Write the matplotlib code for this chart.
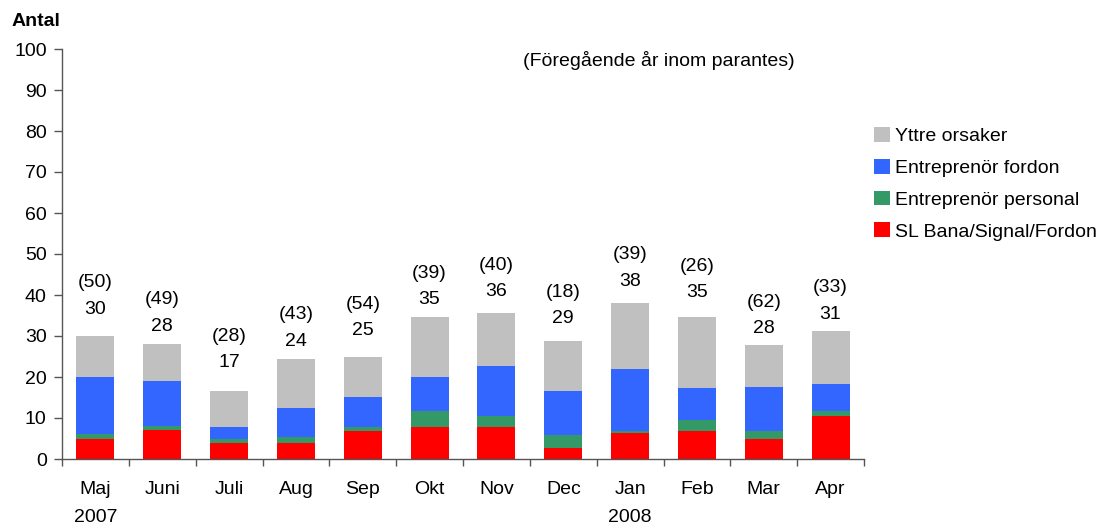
import numpy as np
import matplotlib
matplotlib.use("Agg")
import matplotlib.pyplot as plt

# data
months = ["Maj\n2007", "Juni", "Juli", "Aug", "Sep", "Okt", "Nov", "Dec",
          "Jan\n2008", "Feb", "Mar", "Apr"]
sl_bana = [5, 7, 3.8, 4, 6.9, 7.7, 7.8, 2.8, 6.4, 6.85, 4.9, 10.6]
entr_personal = [1, 1, 1.1, 1.4, 0.9, 3.9, 2.8, 3.1, 0.45, 2.75, 1.95, 1.0]
entr_fordon = [14, 11, 2.8, 7.1, 7.4, 8.3, 12.2, 10.7, 15.15, 7.8, 10.75, 6.8]
yttre = [10, 9, 8.9, 11.8, 9.7, 14.8, 12.9, 12.3, 16.0, 17.3, 10.3, 12.7]
totals = [30, 28, 17, 24, 25, 35, 36, 29, 38, 35, 28, 31]
prev_year = [50, 49, 28, 43, 54, 39, 40, 18, 39, 26, 62, 33]

# manual label placement above the bars (pixels)
label_offset = [27, 18, 28, 18, 26, 17, 21, 22, 22, 24, 16, 17]

plt.rcParams['font.family'] = ['Liberation Sans', 'DejaVu Sans']
FS = 14

fig = plt.figure(figsize=(11.18, 5.26), dpi=100)
ax = fig.add_axes([62 / 1118, 1 - 459 / 526, (864 - 62) / 1118, (459 - 49) / 526])

x = np.arange(len(months))
w = 0.57
series = [
    (sl_bana, "#FF0000", "SL Bana/Signal/Fordon"),
    (entr_personal, "#339966", "Entreprenör personal"),
    (entr_fordon, "#3366FF", "Entreprenör fordon"),
    (yttre, "#C0C0C0", "Yttre orsaker"),
]
bottom = np.zeros(len(months))
handles = []
for vals, col, name in series:
    b = ax.bar(x, vals, w, bottom=bottom, color=col, label=name, linewidth=0)
    handles.append(b)
    bottom = bottom + np.array(vals)

for i in range(len(months)):
    ax.annotate(str(totals[i]), (x[i], bottom[i]), xytext=(0, label_offset[i]),
                textcoords="offset pixels", ha="center", va="center", fontsize=FS)
    ax.annotate("(%d)" % prev_year[i], (x[i], bottom[i]),
                xytext=(0, label_offset[i] + 26.5),
                textcoords="offset pixels", ha="center", va="center", fontsize=FS)

ax.set_xlim(-0.5, len(months) - 0.5)
ax.set_ylim(0, 100)
ax.set_yticks(np.arange(0, 101, 10))
ax.set_xticks(x)
ax.set_xticklabels(months, fontsize=FS, linespacing=1.8)
ax.set_xticks(np.arange(-0.5, len(months), 1), minor=True)
ax.tick_params(axis="x", which="major", length=0, pad=16)
ax.tick_params(axis="x", which="minor", length=5, width=1, color="#555555")
ax.tick_params(axis="y", length=6, width=1, color="#555555", pad=5, labelsize=FS)

for s in ["top", "right"]:
    ax.spines[s].set_visible(False)
for s in ["left", "bottom"]:
    ax.spines[s].set_color("#555555")
    ax.spines[s].set_linewidth(1)

fig.text(12 / 1118, 1 - 22 / 526, "Antal", fontsize=FS, fontweight="bold",
         ha="left", va="center")
fig.text(659 / 1118, 1 - 61 / 526, "(Föregående år inom parantes)", fontsize=FS,
         ha="center", va="center")

fig.legend(handles[::-1], [s[2] for s in series][::-1], loc="upper left",
           bbox_to_anchor=(874 / 1118, 1 - 127 / 526), frameon=False,
           fontsize=FS, borderpad=0, borderaxespad=0, handlelength=0.8,
           handleheight=0.8, handletextpad=0.3, labelspacing=0.7)

fig.savefig("out.png", dpi=100)
